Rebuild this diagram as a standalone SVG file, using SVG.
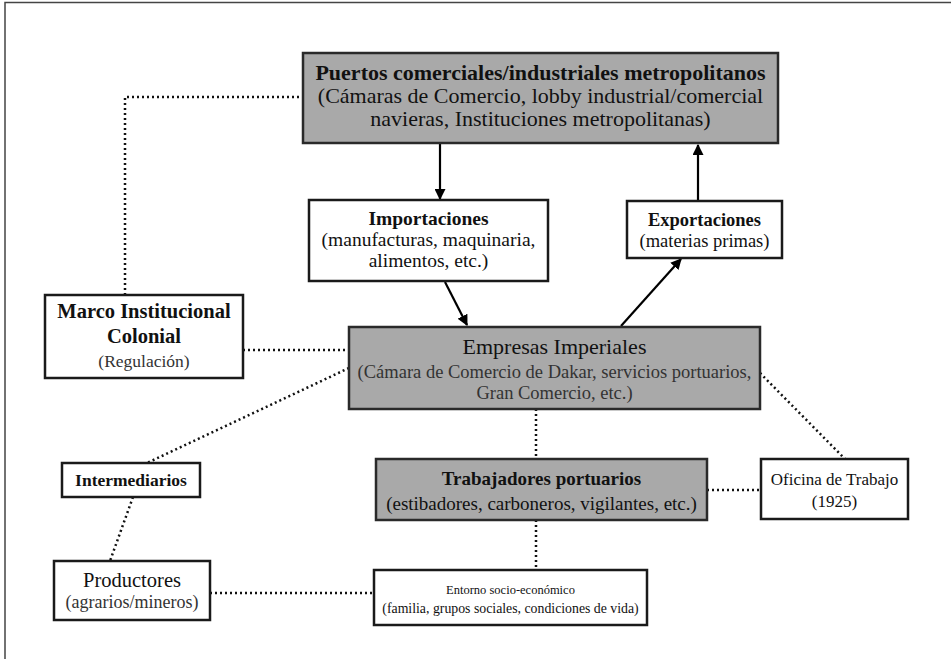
<svg xmlns="http://www.w3.org/2000/svg" width="951" height="659" viewBox="0 0 951 659">
<defs>
<style>
.box{fill:#fff;stroke:#1a1a1a;stroke-width:2.5}
.gbox{fill:#a9a9a9;stroke:#2a2a2a;stroke-width:2.5}
text{font-family:"Liberation Serif","Times New Roman",serif;text-anchor:middle;fill:#111}
.b{font-weight:bold}
.sub{fill:#333}
.dot{fill:none;stroke:#111;stroke-width:2.5;stroke-dasharray:2 3}
.arr{fill:none;stroke:#000;stroke-width:2.2;marker-end:url(#ah)}
</style>
<marker id="ah" viewBox="0 0 10 10" refX="9" refY="5" markerWidth="5" markerHeight="5" orient="auto" markerUnits="strokeWidth">
<path d="M0,0 L10,5 L0,10 z" fill="#000"/>
</marker>
</defs>
<rect width="951" height="659" fill="#fff"/>
<path d="M5,659 V2.5 H951" fill="none" stroke="#444" stroke-width="1.5"/>

<g id="connectors">
<line class="arr" x1="440" y1="143" x2="440" y2="199"/>
<line class="arr" x1="698" y1="201" x2="698" y2="145"/>
<line class="arr" x1="445" y1="282" x2="467" y2="325"/>
<line class="arr" x1="621" y1="326" x2="681" y2="259"/>
<path class="dot" d="M125,295 V97 H303"/>
<line class="dot" x1="243" y1="350" x2="349" y2="350"/>
<line class="dot" x1="349" y1="368" x2="147" y2="463"/>
<line class="dot" x1="133" y1="497" x2="110" y2="561"/>
<line class="dot" x1="210" y1="593" x2="374" y2="593"/>
<line class="dot" x1="536" y1="409" x2="536" y2="459"/>
<line class="dot" x1="536" y1="520" x2="536" y2="570"/>
<line class="dot" x1="707" y1="490" x2="761" y2="490"/>
<line class="dot" x1="760" y1="373" x2="845" y2="459"/>
</g>

<g id="puertos">
<rect class="gbox" x="303" y="53" width="475" height="90"/>
<text class="b" x="540.5" y="80" font-size="22">Puertos comerciales/industriales metropolitanos</text>
<text x="540.5" y="103" font-size="22">(Cámaras de Comercio, lobby industrial/comercial</text>
<text x="540.5" y="126" font-size="22">navieras, Instituciones metropolitanas)</text>
</g>

<g id="importaciones">
<rect class="box" x="309" y="200" width="239" height="81"/>
<text class="b" x="428.5" y="225" font-size="19.5">Importaciones</text>
<text x="428.5" y="246" font-size="19.5">(manufacturas, maquinaria,</text>
<text x="428.5" y="267" font-size="19.5">alimentos, etc.)</text>
</g>

<g id="exportaciones">
<rect class="box" x="627" y="201" width="155" height="57"/>
<text class="b" x="704.5" y="226" font-size="18.5">Exportaciones</text>
<text x="704.5" y="247" font-size="18.5">(materias primas)</text>
</g>

<g id="marco">
<rect class="box" x="45" y="295" width="198" height="83"/>
<text class="b" x="144" y="318" font-size="20.5">Marco Institucional</text>
<text class="b" x="144" y="343" font-size="20.5">Colonial</text>
<text class="sub" x="144" y="367" font-size="17.5">(Regulación)</text>
</g>

<g id="empresas">
<rect class="gbox" x="349" y="327" width="411" height="82"/>
<text x="554.5" y="354" font-size="22">Empresas Imperiales</text>
<text class="sub" x="554.5" y="378" font-size="18.5">(Cámara de Comercio de Dakar, servicios portuarios,</text>
<text class="sub" x="554.5" y="399" font-size="18.5">Gran Comercio, etc.)</text>
</g>

<g id="intermediarios">
<rect class="box" x="62" y="463" width="138" height="34"/>
<text class="b" x="131" y="486" font-size="17.5">Intermediarios</text>
</g>

<g id="trabajadores">
<rect class="gbox" x="376" y="459" width="331" height="61"/>
<text class="b" x="541.5" y="485" font-size="19">Trabajadores portuarios</text>
<text x="541.5" y="510" font-size="19">(estibadores, carboneros, vigilantes, etc.)</text>
</g>

<g id="oficina">
<rect class="box" x="761" y="459" width="147" height="60"/>
<text x="834.5" y="485" font-size="17">Oficina de Trabajo</text>
<text x="834.5" y="507" font-size="17">(1925)</text>
</g>

<g id="productores">
<rect class="box" x="54" y="561" width="156" height="59"/>
<text x="132" y="587" font-size="20.5">Productores</text>
<text class="sub" x="132" y="608" font-size="18">(agrarios/mineros)</text>
</g>

<g id="entorno">
<rect class="box" x="374" y="570" width="273" height="55"/>
<text x="510.5" y="594" font-size="12.5">Entorno socio-económico</text>
<text x="510.5" y="613" font-size="13.8">(familia, grupos sociales, condiciones de vida)</text>
</g>
</svg>
